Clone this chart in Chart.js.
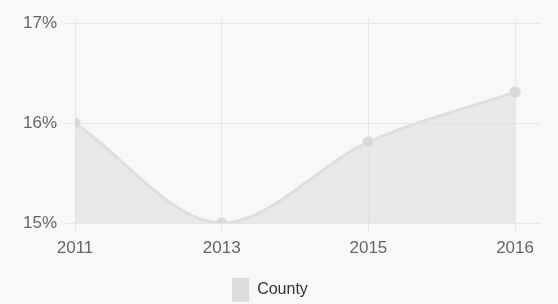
<!DOCTYPE html>
<html>
<head>
<meta charset="utf-8">
<script src="https://cdn.jsdelivr.net/npm/chart.js@4/dist/chart.umd.min.js"></script>
<style>
  html, body { margin: 0; padding: 0; background: #f8f8f8; }
  #wrap { width: 558px; height: 304px; }
</style>
</head>
<body>
<div id="wrap"><canvas id="chart" width="558" height="304"></canvas></div>
<script>
const years = ["2011", "2013", "2015", "2016"];
const countyValues = [16.0, 15.0, 15.81, 16.31];
const yTicks = [15, 16, 17];

const font = { family: "Arial, 'Liberation Sans', sans-serif", size: 17 };

new Chart(document.getElementById("chart").getContext("2d"), {
  type: "line",
  data: {
    datasets: [
      {
        label: "County",
        data: countyValues.map((v, i) => ({ x: i, y: v })),
        borderColor: "#dedede",
        backgroundColor: "rgba(222,222,222,0.6)",
        borderWidth: 3,
        fill: "start",
        cubicInterpolationMode: "monotone",
        pointRadius: 6,
        pointBackgroundColor: "#d9d9d9",
        pointBorderColor: "#f0f0f0",
        pointBorderWidth: 1,
      },
    ],
  },
  options: {
    responsive: false,
    animation: false,
    layout: { padding: { top: 15, right: 18, left: 0, bottom: -8 } },
    scales: {
      x: {
        type: "linear",
        min: 0,
        max: 3.17,
        afterFit: (scale) => {
          scale.height = 53;
        },
        ticks: {
          stepSize: 1,
          includeBounds: false,
          color: "#666",
          font: font,
          padding: 7,
          callback: (v) => years[v] || "",
        },
        grid: { color: "#e6e6e6", tickLength: 8 },
        border: { display: false },
      },
      y: {
        min: yTicks[0],
        max: 17.05,
        afterBuildTicks: (scale) => {
          scale.ticks = yTicks.map((v) => ({ value: v }));
        },
        afterFit: (scale) => {
          scale.width = 75;
        },
        ticks: {
          color: "#666",
          font: font,
          padding: 8,
          callback: (v) => v + "%",
        },
        grid: { color: "#e6e6e6", tickLength: 10 },
        border: { display: false },
      },
    },
    plugins: {
      legend: {
        position: "bottom",
        labels: {
          color: "#333",
          font: { family: font.family, size: 16 },
          boxWidth: 17,
          boxHeight: 24,
          padding: 2,
          generateLabels: (chart) =>
            Chart.defaults.plugins.legend.labels.generateLabels(chart).map((item) => ({
              ...item,
              fillStyle: "#dcdcdc",
              lineWidth: 0,
              strokeStyle: "transparent",
            })),
        },
      },
      tooltip: { enabled: false },
    },
  },
});
</script>
</body>
</html>
